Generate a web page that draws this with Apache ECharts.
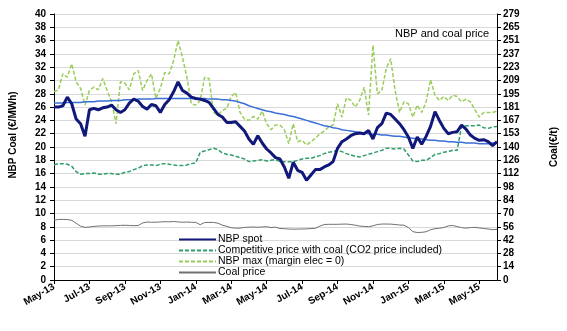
<!DOCTYPE html>
<html><head><meta charset="utf-8">
<script src="https://cdn.jsdelivr.net/npm/echarts@6/dist/echarts.min.js"></script>
<style>html,body{margin:0;padding:0;background:#fff}#c{width:567px;height:331px}</style>
</head><body><div id="c"></div>
<script>
const monthLabels = ['May-13','Jun-13','Jul-13','Aug-13','Sep-13','Oct-13','Nov-13','Dec-13','Jan-14','Feb-14','Mar-14','Apr-14','May-14','Jun-14','Jul-14','Aug-14','Sep-14','Oct-14','Nov-14','Dec-14','Jan-15','Feb-15','Mar-15','Apr-15','May-15','Jun-15'];
const leftTicks = [0,2,4,6,8,10,12,14,16,18,20,22,24,26,28,30,32,34,36,38,40];
const rightTickLabels = [0,14,28,42,56,70,84,98,112,126,140,153,167,181,195,209,223,237,251,265,279];

const nbpSpot = [
26.0,26.0,26.2,27.5,26.5,24.2,23.5,21.6,25.6,25.8,
25.6,25.9,26.0,26.3,25.6,25.2,25.6,26.6,27.2,26.9,
26.1,25.7,26.4,26.2,25.2,26.4,27.1,28.3,29.8,28.5,
28.1,27.5,27.3,27.2,27.0,26.7,25.8,24.9,24.5,23.7,
23.7,23.8,23.1,22.4,21.2,20.4,21.7,20.6,19.7,19.1,
18.4,18.2,17.0,15.3,17.7,16.5,16.2,15.0,15.8,16.6,
16.6,17.0,17.3,17.8,19.8,20.8,21.2,21.7,22.0,22.1,
22.0,22.5,21.2,22.9,23.5,25.1,24.9,24.2,23.5,22.6,
21.5,19.8,21.5,20.4,21.6,23.1,25.3,24.0,22.8,22.0,
22.2,22.3,23.3,22.7,21.8,21.3,21.0,21.1,20.8,20.2,
20.8];
const competitive = [
17.3,17.5,17.5,17.4,17.1,16.3,15.9,16.0,16.0,16.1,
15.9,15.9,16.0,16.0,15.9,15.9,16.2,16.3,16.6,16.8,
17.2,17.3,17.3,17.2,17.4,17.5,17.4,17.3,17.2,17.2,
17.3,17.5,17.6,19.2,19.4,19.6,19.8,19.6,19.1,18.9,
18.8,18.6,18.4,18.2,17.8,17.9,18.0,18.1,17.9,18.0,
18.1,17.8,17.8,17.8,17.8,18.0,18.2,18.3,18.3,18.5,
18.7,19.0,19.2,19.3,19.5,19.3,19.0,18.8,18.6,18.5,
18.7,18.9,19.1,19.3,19.5,19.8,19.8,19.7,19.8,19.7,
18.8,17.9,17.8,18.0,18.0,18.4,18.9,19.0,19.2,19.3,
19.5,19.5,23.1,23.2,23.2,23.2,23.3,22.9,22.8,23.0,
23.1];
const nbpMax = [
28.3,28.6,31.0,30.5,32.5,29.8,28.8,26.3,28.5,29.0,
28.6,30.3,28.5,26.8,23.5,29.8,29.6,28.6,31.0,31.5,
28.5,30.0,31.0,27.3,28.8,31.2,31.0,33.0,36.0,33.5,
30.5,26.5,26.3,27.0,30.5,30.3,25.2,24.8,25.5,25.8,
27.6,28.2,25.2,24.2,24.0,24.6,24.2,25.4,23.5,22.6,
23.3,23.3,22.6,20.5,23.5,20.8,21.0,20.3,20.8,21.3,
22.0,22.4,23.0,23.3,26.5,24.5,27.4,27.0,26.0,27.0,
29.0,24.8,35.3,28.0,28.5,31.8,33.3,28.5,25.2,26.8,
26.5,24.5,26.3,25.2,26.8,30.1,27.8,27.0,27.6,27.0,
27.8,27.6,26.8,27.2,26.8,25.6,24.5,25.2,25.2,25.2,
25.4];
const trendLine = [
26.6,26.6,26.6,26.7,26.7,26.7,26.7,26.8,26.8,26.8,
26.9,26.9,26.9,27.0,27.0,27.0,27.1,27.1,27.1,27.2,
27.2,27.2,27.2,27.3,27.3,27.3,27.3,27.3,27.3,27.3,
27.3,27.3,27.3,27.3,27.3,27.2,27.2,27.2,27.1,27.1,
27.0,26.9,26.7,26.5,26.2,26.0,25.8,25.6,25.4,25.3,
25.1,25.0,24.9,24.7,24.6,24.4,24.2,24.0,23.8,23.6,
23.4,23.2,23.1,22.9,22.8,22.6,22.5,22.4,22.3,22.2,
22.1,22.0,21.9,21.9,21.8,21.8,21.7,21.6,21.6,21.5,
21.4,21.3,21.2,21.2,21.1,21.0,21.0,20.9,20.9,20.8,
20.8,20.7,20.7,20.6,20.6,20.6,20.5,20.5,20.5,20.6,
20.6];
const coalPrice = [
62.9,63.4,63.6,63.4,62.6,59.5,56.5,55.2,55.6,56.2,
56.6,56.8,56.8,56.8,57.0,57.3,57.4,57.2,57.0,57.1,
59.8,60.8,60.6,60.6,60.9,61.2,61.0,61.4,60.9,60.6,
60.8,60.5,60.4,58.0,60.3,60.4,60.4,59.6,57.5,56.3,
54.8,54.4,54.4,55.2,55.4,55.6,55.3,55.6,55.9,55.0,
55.4,54.0,53.8,53.5,53.3,53.4,53.5,53.6,54.0,54.2,
56.5,58.2,58.4,58.4,58.4,58.6,58.7,58.2,57.5,56.6,
56.2,55.9,56.8,58.2,58.7,58.7,58.6,58.2,57.7,57.5,
55.0,50.7,49.8,50.0,50.6,52.8,53.8,54.3,55.0,56.8,
57.2,56.0,55.0,54.4,55.0,55.2,54.6,54.0,53.5,52.8,
53.2];

const categories = nbpSpot.map((_, i) => monthLabels[Math.floor(i / 4)] + '|' + (i % 4 + 1));

const FONT = 'Liberation Sans, Arial, sans-serif';
const chart = echarts.init(document.getElementById('c'), null, {renderer: 'canvas'});
chart.setOption({
  animation: false,
  backgroundColor: '#fff',
  title: {
    text: 'NBP and coal price', left: 390, top: 23,
    textStyle: {fontFamily: FONT, fontSize: 11, fontWeight: 'normal', color: '#000'}
  },
  legend: {
    orient: 'vertical', left: 173, top: 229,
    itemWidth: 37, itemHeight: 9, itemGap: 0,
    itemStyle: {opacity: 0},
    data: ['NBP spot', 'Competitive price with coal (CO2 price included)', 'NBP max (margin elec = 0)', 'Coal price'],
    textStyle: {fontFamily: FONT, fontSize: 10.5, color: '#000', padding: [0,0,0,-3]}
  },
  grid: {left: 54, right: 61, top: 14, bottom: 51},
  xAxis: {
    type: 'category', data: categories, boundaryGap: false,
    axisLine: {lineStyle: {color: '#000', width: 1}},
    axisTick: {interval: 7, length: 4, lineStyle: {color: '#000'}},
    axisLabel: {
      interval: 7, rotate: 30, fontFamily: FONT, fontSize: 10, fontWeight: 'bold', color: '#000', margin: 6,
      formatter: v => v.split('|')[0]
    },
    splitLine: {show: false}
  },
  yAxis: [{
    type: 'value', min: 0, max: 40, interval: 2,
    name: 'NBP Coal (€/MWh)', nameLocation: 'middle', nameGap: 36,
    nameTextStyle: {fontFamily: FONT, fontSize: 10, fontWeight: 'bold', color: '#000', padding: [0,0,0,24]},
    axisLine: {show: true, lineStyle: {color: '#000'}},
    axisTick: {show: true, length: 4, lineStyle: {color: '#000'}},
    axisLabel: {fontFamily: FONT, fontSize: 10, fontWeight: 'bold', color: '#000', margin: 8,
      formatter: v => String(leftTicks[Math.round(v / 2)])},
    splitLine: {show: true, lineStyle: {color: '#d9d9d9', width: 1}}
  }, {
    type: 'value', min: 0, max: 279, interval: 13.95,
    name: 'Coal(€/t)', nameLocation: 'middle', nameGap: 28,
    nameTextStyle: {fontFamily: FONT, fontSize: 10, fontWeight: 'bold', color: '#000', padding: [24,0,0,0]},
    axisLine: {show: true, lineStyle: {color: '#000'}},
    axisTick: {show: true, length: 4, lineStyle: {color: '#000'}},
    axisLabel: {fontFamily: FONT, fontSize: 10, fontWeight: 'bold', color: '#000', margin: 6,
      formatter: v => String(rightTickLabels[Math.round(v / 13.95)])},
    splitLine: {show: false}
  }],
  series: [
    {name: 'Coal price', type: 'line', yAxisIndex: 1, data: coalPrice, symbol: 'none',
      lineStyle: {color: '#707070', width: 1}, itemStyle: {color: '#707070'}},
    {name: 'Competitive price with coal (CO2 price included)', type: 'line', data: competitive, symbol: 'none',
      lineStyle: {color: '#2e9e6a', width: 1.5, type: [4, 2]}, itemStyle: {color: '#2e9e6a'}},
    {name: 'NBP max (margin elec = 0)', type: 'line', data: nbpMax, symbol: 'none',
      lineStyle: {color: '#9acd5a', width: 1.5, type: [4, 2]}, itemStyle: {color: '#9acd5a'}},
    {name: 'Trend', type: 'line', data: trendLine, symbol: 'none',
      lineStyle: {color: '#3a6fd8', width: 1.5}, itemStyle: {color: '#3a6fd8'}},
    {name: 'NBP spot', type: 'line', data: nbpSpot, symbol: 'none',
      lineStyle: {color: '#10187a', width: 3}, itemStyle: {color: '#10187a'}}
  ]
});
</script></body></html>
